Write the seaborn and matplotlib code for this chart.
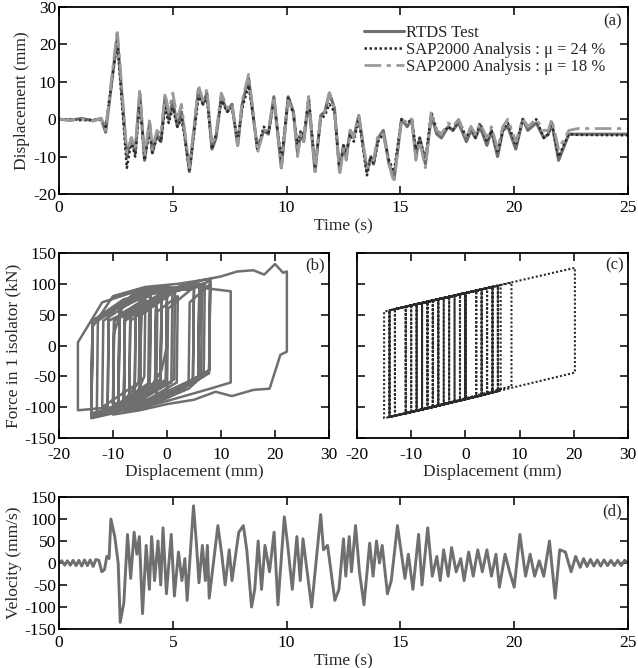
import matplotlib
matplotlib.use("Agg")
import matplotlib.pyplot as plt
import numpy as np
import pandas as pd
import seaborn as sns

# ---- data ----
# (a) isolator displacement (mm) at the turning points of the record
a_time = [0.0, 0.5, 1.0, 1.5, 1.85, 2.05, 2.56, 2.98, 3.18, 3.35, 3.55, 3.76, 3.98, 4.1,
          4.3, 4.48, 4.66, 4.82, 5.0, 5.2, 5.38, 5.5, 5.73, 6.13, 6.33, 6.5, 6.72, 6.9,
          7.13, 7.4, 7.6, 7.85, 8.05, 8.33, 8.55, 8.72, 9.0, 9.2, 9.44, 9.77, 10.07, 10.3,
          10.48, 10.62, 10.75, 10.97, 11.25, 11.5, 11.68, 11.88, 12.1, 12.33, 12.5, 12.62,
          12.8, 12.95, 13.17, 13.53, 13.7, 13.82, 14.02, 14.25, 14.5, 14.72, 15.05, 15.3,
          15.5, 15.68, 15.85, 16.1, 16.36, 16.6, 16.8, 17.1, 17.3, 17.56, 17.9, 18.1, 18.3,
          18.5, 18.8, 19.0, 19.27, 19.5, 19.72, 20.07, 20.38, 20.6, 20.97, 21.3, 21.5,
          21.65, 21.95, 22.4, 22.8, 25.0]
a_rtds = [0, -0.3, 0.2, -0.4, 0.2, -3.5, 22, -10, -5, -9, 7, -11, -1, -9,
          -4, -6, 6, 0, 5, -2, 2, -3, -14, 8, 4, 7, -8, -5,
          6, 2, 4, -7, 4, 11, 0, -8, -3, -4, 6, -13, 6, 2,
          -9, -4, -6, 5, -14, 1, 2, 7, 3, -14, -7, -10,
          -3, -5, 1, -14, -10, -12, -5, -3, -12, -16, 0, -2,
          0, -10, -5, -12, 1, -4, -5, -2, -3, -1, -6, -3, -5,
          -2, -7, -3, -10, -3, -2, -8, 0, -3, -1, -5, -4,
          -1, -11, -4, -4, -4]
a_sap24 = [0, 0, -0.3, -0.2, 0, -2, 21, -13, -6, -10, 5, -11, -3, -9,
           -5, -6, 3, -1, 3, -2, 0, -4, -14, 6, 4, 6, -8, -4,
           5, 2, 3, -6, 3, 9, 0, -8, -2, -4, 5, -11, 6, 1,
           -7, -3, -5, 6, -13, 0, 1, 4, 2, -14, -7, -9,
           -4, -6, 0, -15, -10, -12, -6, -4, -11, -14, 0, -1,
           0, -8, -5, -11, 2, -3, -4, -2, -3, 0, -5, -2, -5,
           -1, -6, -3, -9, -3, -1, -7, 0, -2, 0, -5, -4,
           -1, -10, -4, -4.2, -4.3]
a_sap18 = [0, -0.2, 0, -0.5, 0.3, -3, 24, -9, -5, -8, 8, -10, 0, -8,
           -3, -4, 7, 2, 7, 0, 4, -2, -13, 9, 5, 8, -7, -4,
           7, 3, 4, -7, 5, 12, 1, -9, -3, -3, 6, -13, 5, 2,
           -10, -4, -6, 6, -14, 1, 2, 7, 3, -15, -8, -11,
           -3, -5, 1, -13, -11, -11, -4, -4, -12, -17, 0, -1,
           0, -11, -6, -13, 2, -3, -4, -1, -2, 0, -5, -2, -4,
           -1, -5, -2, -8, -2, 0, -6, 0, -2, 0, -3, -3,
           0, -8, -3, -2.5, -2.5]

# (b) RTDS test: displacement (mm) vs force (kN) along the loops
b_disp = [0, -1, -3.5, -3.3, 2, 6, 10, 13, 16, 18, 20, 21.5, 22.2, 22.2, 21, 19, 16, 12, 9, 5,
          0, -5, -10, -9.8, -8, -5, -5.2, -9, -8.8, -4, 0, 4, 8, 7.8, 4, 0, -5, -11,
          -10.8, -6, -1, -1.2, -5, -9, -8.8, -4, -4.2, -6, -5.8, 0, 6.5, 6.3, 0, 0.2, 5,
          4.8, -2, -1.8, 2, 1.8, -4, -10, -14, -13.8, -10, -4, 2, 8, 7.8, 4, 4.2, 8,
          7.8, 0, -8, -7.8, 0, 6, 5.8, 2, -7, -6.8, 0, 5, 11.8, 11.8, 8, 0, -8,
          -7.8, 0, 6, 5.8, 0, -8, -13, -12.8, -5, 6, 5.8, 0, -9, -8.8, 0, 5, 4.8, -5,
          -14, -13.8, -5, 2, 7, 6.8, 0, -8, -14, -13.8, -8, -3, -3.2, -5, -4.8, 1, 0.8,
          -7, -14, -13.8, -8, -3, -3.2, -10, -16.5, -16.5, -12, -5, 0, -0.2, -5, -10,
          -9.8, -5, -5.2, -12, -11.8, -5, 1.5, 1.3, -5, -4.8, -1, -1.2, -6, -5.8, -2,
          -2.2, -7, -6.8, -2, -2.2, -10, -9.8, -2, -2.2, -8, -7.8, 0, -0.2, -5, -4.8,
          -1, -1.2, -11, -10.8, -4]
b_force = [0, -40, -75, 60, 95, 105, 112, 120, 122, 115, 132, 118, 120, -10, -15, -70, -72, -82, -75, -88,
           -95, -105, -112, 20, 70, 85, -60, -100, 60, 80, 95, 90, 105, -40, -70, -85, -100, -108,
           50, 85, 90, -60, -90, -105, 50, 75, -50, -85, 55, 90, 100, -50, -75, 60, 95,
           -55, -90, 55, 80, -60, -90, -110, -118, 30, 80, 95, 100, 108, -40, -60, 70, 100,
           -45, -85, -105, 50, 90, 100, -50, -70, -100, 50, 85, 95, 88, -60, -70, -90, -108,
           40, 88, 98, -50, -80, -100, -112, 40, 85, 100, -55, -80, -105, 50, 85, 95, -55, -95,
           -115, 40, 85, 92, 100, -50, -78, -100, -112, 40, 75, 85, -60, -85, 50, 85, -60,
           -95, -110, 40, 70, 80, -60, -100, -105, 5, 70, 90, 95, -60, -85, -95,
           40, 70, -60, -100, 40, 80, 90, -55, -90, 50, 75, -60, -90, 50, 70,
           -60, -95, 40, 70, -60, -100, 40, 75, -60, -95, 45, 80, -55, -85, 50,
           75, -55, -105, 40, 70]

# (c) SAP2000 analysis (mu = 24 %): displacement (mm) vs force (kN)
c_disp = [0, 0, -2, -2, 20.2, 20.2, -13, -13, -6, -6, -10, -10, 5, 5, -11, -11, -3, -3, -9, -9,
          -5, -5, -6, -6, 3, 3, -1, -1, 3, 3, -14, -14, 6, 6, 4, 4, 6.5, 6.5, -8, -8,
          5, 5, 2, 2, 3, 3, -6, -6, 8.5, 8.5, -8, -8, 5, 5, -11, -11, 6, 6, -7, -7,
          6, 6, -13, -13, 4, 4, -14, -14, -4, -4, -6, -6, 0, 0, -15, -15, -4, -4, -14, -14,
          0, 0, -8, -8, -5, -5, -11, -11, 2, 2, -5, -5, 0, 0, -9, -9, -2, -2, -7, -7,
          -3, -3, -9, -9, 0, 0, -7, -7, 0, 0, -10, -10, -1, -1, -4.3]
c_force = [0, -87, -91, 81, 126, -44, -114, 59, 73, -100, -108, 65, 95, -76, -110, 63, 79, -93, -106, 67,
           75, -97, -100, 73, 91, -81, -89, 83, 91, -81, -116, 57, 97, -74, -79, 93, 98, -73, -104, 69,
           95, -76, -83, 89, 91, -81, -100, 73, 102, -66, -104, 69, 95, -76, -110, 63, 97, -74, -102, 71,
           97, -74, -114, 59, 93, -79, -116, 57, 77, -95, -100, 73, 85, -87, -118, 55, 77, -95, -116, 57,
           85, -87, -104, 69, 75, -97, -110, 63, 89, -83, -97, 75, 85, -87, -106, 67, 81, -91, -102, 71,
           79, -93, -106, 67, 85, -87, -102, 71, 85, -87, -108, 65, 83, -89, -96]

# (d) isolator velocity (mm/s)
d_time = [0.0, 0.12, 0.25, 0.37, 0.5, 0.62, 0.75, 0.87, 1.0, 1.12, 1.25, 1.37, 1.5, 1.62, 1.75,
          1.88, 2.0, 2.1, 2.2, 2.28, 2.45, 2.6, 2.69, 2.85, 3.01, 3.15, 3.3, 3.42, 3.53, 3.67,
          3.83, 3.97, 4.07, 4.2, 4.35, 4.47, 4.57, 4.72, 4.93, 5.07, 5.25, 5.4, 5.53, 5.63,
          5.91, 6.03, 6.15, 6.3, 6.43, 6.52, 6.6, 6.98, 7.15, 7.3, 7.48, 7.6, 7.9, 8.1, 8.25,
          8.46, 8.6, 8.75, 8.9, 9.05, 9.25, 9.45, 9.62, 9.9, 10.05, 10.25, 10.45, 10.6, 10.72,
          11.1, 11.5, 11.62, 11.8, 12.12, 12.3, 12.5, 12.6, 12.75, 12.85, 13.03, 13.2, 13.4,
          13.65, 13.8, 13.95, 14.08, 14.2, 14.43, 14.6, 14.87, 15.05, 15.2, 15.35, 15.55, 15.8,
          15.95, 16.2, 16.4, 16.6, 16.75, 16.9, 17.1, 17.25, 17.45, 17.65, 17.8, 18.0, 18.2,
          18.4, 18.6, 18.8, 19.0, 19.2, 19.35, 19.6, 19.8, 20.0, 20.25, 20.5, 20.7, 20.9, 21.1,
          21.3, 21.55, 21.8, 22.0, 22.25, 22.5, 22.7, 22.9, 23.05, 23.2, 23.35, 23.5, 23.65,
          23.8, 23.95, 24.1, 24.25, 24.4, 24.55, 24.7, 24.85, 25.0]
d_vel = [0, 5, -5, 5, -5, 6, -6, 6, -7, 7, -6, 7, -8, 8, 6,
         -20, -15, 15, 10, 100, 60, 0, -135, -90, 65, -35, 70, 20, 60, -115,
         40, -60, 60, -40, 50, -50, 80, -70, 65, -75, 25, -40, 10, -85,
         130, 50, -45, 40, -40, 40, -80, 85, 20, -50, 30, -40, 70, 85, 30,
         -100, -60, 50, -60, 40, -20, 70, -95, 105, 40, -60, 60, -40, 55,
         -100, 110, 30, 40, -85, -60, 55, -30, 60, -20, 85, -20, -95,
         45, -30, 50, 0, 40, -70, -40, 85, 20, -35, 20, -60, 65,
         -50, 80, -30, 15, -40, 30, -30, 35, -20, 10, -40, 25, -30,
         30, -20, 30, -30, 20, -55, 20, -20, -55, 65, -30, 20, -30, 5,
         -30, 50, -80, 30, 25, -20, 15, -10, 10, -8, 8, -7, 7,
         -7, 7, -6, 6, -6, 6, -6, 6, 0]

# ---- style ----
sns.set_style("ticks")
plt.rcParams["font.family"] = ["Liberation Serif", "DejaVu Serif"]
plt.rcParams["font.size"] = 11.5
plt.rcParams["axes.unicode_minus"] = False
plt.rcParams["axes.linewidth"] = 1.3
plt.rcParams["axes.edgecolor"] = "black"
plt.rcParams["xtick.color"] = "black"
plt.rcParams["ytick.color"] = "black"
plt.rcParams["lines.solid_joinstyle"] = "round"

gray = "#6f6f6f"
W, H = 638, 668
fig = plt.figure(figsize=(W / 100, H / 100), dpi=100)


def add_ax(x0, y0, x1, y1):
    return fig.add_axes([x0 / W, 1 - y1 / H, (x1 - x0) / W, (y1 - y0) / H])


def style_ax(ax, xpad=4):
    ax.tick_params(direction="in", length=6, width=1.1, top=True, right=True,
                   labelsize=12.5)
    ax.tick_params(axis="x", pad=xpad)
    ax.tick_params(axis="y", pad=2)
    for s in ax.spines.values():
        s.set_visible(True)
        s.set_color("black")


ax_a = add_ax(59, 7, 628, 194)
ax_b = add_ax(59, 253, 329, 438)
ax_c = add_ax(357, 253, 628, 438)
ax_d = add_ax(59, 497, 628, 629)

# (a)
df_a = pd.DataFrame({"t": a_time, "rtds": a_rtds, "s24": a_sap24, "s18": a_sap18})
sns.lineplot(data=df_a, x="t", y="rtds", ax=ax_a, color=gray, lw=2.2, label="RTDS Test")
sns.lineplot(data=df_a, x="t", y="s24", ax=ax_a, color="#2b2b2b", lw=1.8,
             linestyle=(0, (1, 1)), label="SAP2000 Analysis : \u03bc = 24 %")
sns.lineplot(data=df_a, x="t", y="s18", ax=ax_a, color="#9a9a9a", lw=2.0,
             linestyle=(0, (6, 2, 1.5, 2)), label="SAP2000 Analysis : \u03bc = 18 %")
ax_a.set_xlim(0, 25)
ax_a.set_ylim(-20, 30)
ax_a.set_xticks(np.arange(0, 26, 5))
ax_a.set_yticks(np.arange(-20, 31, 10))
ax_a.set_xlabel("Time (s)", fontsize=12.5, labelpad=2)
ax_a.set_ylabel("Displacement (mm)", fontsize=12.5, labelpad=2)
leg = ax_a.legend(loc="upper right", bbox_to_anchor=(0.972, 0.94), frameon=False,
                  fontsize=12, handlelength=2.4, handletextpad=0.15, labelspacing=0.05,
                  borderaxespad=0)
ax_a.text(0.99, 0.965, "(a)", transform=ax_a.transAxes, ha="right", va="top", fontsize=12)
style_ax(ax_a)

# (b)
df_b = pd.DataFrame({"d": b_disp, "f": b_force})
sns.lineplot(data=df_b, x="d", y="f", ax=ax_b, sort=False, estimator=None,
             color=gray, lw=1.8)
ax_b.set_xlim(-20, 30)
ax_b.set_ylim(-150, 150)
ax_b.set_xticks(np.arange(-20, 31, 10))
ax_b.set_yticks(np.arange(-150, 151, 50))
ax_b.set_xlabel("Displacement (mm)", fontsize=12.5, labelpad=1)
ax_b.set_ylabel("Force in 1 isolator (kN)", fontsize=12.5, labelpad=2)
ax_b.text(0.985, 0.975, "(b)", transform=ax_b.transAxes, ha="right", va="top", fontsize=12)
style_ax(ax_b, xpad=6.5)

# (c)
df_c = pd.DataFrame({"d": c_disp, "f": c_force})
sns.lineplot(data=df_c, x="d", y="f", ax=ax_c, sort=False, estimator=None,
             color="#2b2b2b", lw=1.5, linestyle=(0, (1, 1)))
ax_c.set_xlim(-20, 30)
ax_c.set_ylim(-150, 150)
ax_c.set_xticks(np.arange(-20, 31, 10))
ax_c.set_yticks(np.arange(-150, 151, 50))
ax_c.set_yticklabels([])
ax_c.set_xlabel("Displacement (mm)", fontsize=12.5, labelpad=1)
ax_c.set_ylabel("")
ax_c.text(0.985, 0.975, "(c)", transform=ax_c.transAxes, ha="right", va="top", fontsize=12)
style_ax(ax_c, xpad=6.5)

# (d)
df_d = pd.DataFrame({"t": d_time, "v": d_vel})
sns.lineplot(data=df_d, x="t", y="v", ax=ax_d, color=gray, lw=2.1)
ax_d.set_xlim(0, 25)
ax_d.set_ylim(-150, 150)
ax_d.set_xticks(np.arange(0, 26, 5))
ax_d.set_yticks(np.arange(-150, 151, 50))
ax_d.set_xlabel("Time (s)", fontsize=12.5, labelpad=2)
ax_d.set_ylabel("Velocity (mm/s)", fontsize=12.5, labelpad=2)
ax_d.text(0.99, 0.95, "(d)", transform=ax_d.transAxes, ha="right", va="top", fontsize=12)
style_ax(ax_d)

fig.savefig("out.png", dpi=100)
